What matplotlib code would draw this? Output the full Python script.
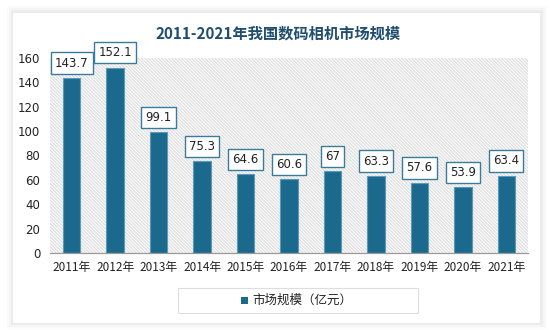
import matplotlib
matplotlib.use("Agg")
import matplotlib.pyplot as plt
from matplotlib.patches import Rectangle

plt.rcParams['font.family'] = ['Noto Sans CJK SC', 'DejaVu Sans']
plt.rcParams['hatch.linewidth'] = 0.9

years = ['2011年', '2012年', '2013年', '2014年', '2015年', '2016年',
         '2017年', '2018年', '2019年', '2020年', '2021年']
values = [143.7, 152.1, 99.1, 75.3, 64.6, 60.6, 67, 63.3, 57.6, 53.9, 63.4]
labels = ['143.7', '152.1', '99.1', '75.3', '64.6', '60.6', '67', '63.3', '57.6', '53.9', '63.4']
yticks = [0, 20, 40, 60, 80, 100, 120, 140, 160]
title = '2011-2021年我国数码相机市场规模'
legend_label = '市场规模（亿元）'

W, H = 553, 330
fig = plt.figure(figsize=(W/100, H/100), dpi=100)
fig.patch.set_facecolor('white')

# card with soft shadow
cx0, cy0, cx1, cy1 = 12, 12, 540, 323
for d, a in [(6, 0.025), (4, 0.04), (2, 0.06)]:
    fig.patches.append(Rectangle(((cx0 - d + 1)/W, (H - cy1 - d)/H), (cx1 - cx0 + 2*d)/W, (cy1 - cy0 + 2*d)/H,
                                 transform=fig.transFigure, fc='#777777', ec='none', alpha=a, zorder=0))
fig.patches.append(Rectangle((cx0/W, (H - cy1)/H), (cx1 - cx0)/W, (cy1 - cy0)/H, transform=fig.transFigure,
                             fc='white', ec='#e8e8e8', lw=0.6, zorder=1))

ax = fig.add_axes([50/W, (H - 253)/H, 478/W, 195/H])
ax.set_zorder(2)
ax.patch.set_alpha(0)
x = list(range(len(years)))
ax.set_xlim(-0.5, len(years) - 0.5)
ax.set_ylim(0, 160)
ax.add_patch(Rectangle((-0.5, 0), len(years), 160, fc='white', ec='#dedede', lw=0,
                       hatch='\\' * 10, zorder=0))
ax.bar(x, values, width=0.4, color='#1b6a8e', edgecolor='#5a9bbb', lw=0.8, zorder=3,
       label=legend_label)
for xi, v, lab in zip(x, values, labels):
    ax.annotate(lab, (xi, v), xytext=(0, 6), textcoords='offset points', ha='center', va='bottom',
                fontsize=8.5, color='#222222', zorder=5, family=['DejaVu Sans'],
                bbox=dict(boxstyle='square,pad=0.35', fc='white', ec='#3a7b9c', lw=1.0))

ax.set_yticks(yticks)
ax.set_yticklabels([str(t) for t in yticks], fontsize=8.5, color='#222222', family=['DejaVu Sans'])
ax.set_xticks(x)
ax.set_xticklabels(years, fontsize=8.5, color='#222222')
ax.tick_params(axis='y', length=0, pad=7)
ax.tick_params(axis='x', length=0, pad=6)
for s in ['top', 'right', 'left']:
    ax.spines[s].set_visible(False)
ax.spines['bottom'].set_color('#9a9a9a')
ax.spines['bottom'].set_linewidth(0.9)
ax.spines['bottom'].set_zorder(4)

fig.text(278/W, 1 - 34/H, title, ha='center', va='center', fontsize=11, fontweight='bold',
         color='#1f4e6e', zorder=6)

# legend
fig.patches.append(Rectangle((178/W, (H - 313)/H), 240/W, 25/H, transform=fig.transFigure,
                             fc='white', ec='#dddddd', lw=0.8, zorder=3))
fig.patches.append(Rectangle((241/W, (H - 304)/H), 7/W, 7/H, transform=fig.transFigure,
                             fc='#1b6a8e', ec='none', zorder=4))
fig.text(252/W, 1 - 300.5/H, legend_label, ha='left', va='center', fontsize=9, color='#222222', zorder=5)

fig.savefig('out.png', dpi=100, facecolor=fig.get_facecolor())
